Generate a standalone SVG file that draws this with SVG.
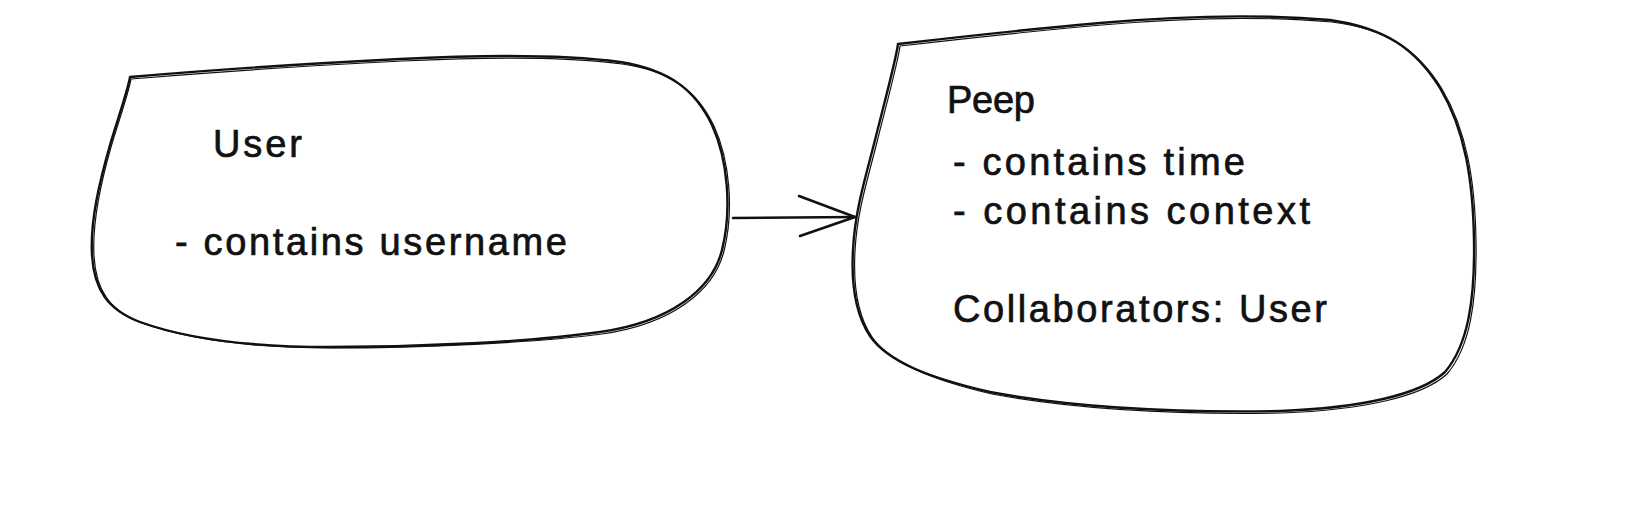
<svg xmlns="http://www.w3.org/2000/svg" width="1630" height="512" viewBox="0 0 1630 512">
<style>
.shape{fill:none;stroke:#111111;stroke-width:2.4;stroke-linecap:round;stroke-linejoin:round}
.shape2{fill:none;stroke:#111111;stroke-width:1.2;stroke-linecap:round;stroke-linejoin:round}
.conn{fill:none;stroke:#111111;stroke-width:2.6;stroke-linecap:round;stroke-linejoin:round}
.t{font-family:"Liberation Sans",Arial,sans-serif;font-size:38px;fill:#111111;stroke:#111111;stroke-width:0.7}
</style>
<rect width="1630" height="512" fill="#ffffff"/>
<g id="node-user">
<path class="shape" d="M130,77 C128,90 118,118 110,145 C100,180 90,220 92,255 C94,290 108,310 140,322 C190,340 260,347 330,347 C420,347 530,342 600,332 C670,322 712,290 722,250 C732,210 728,160 712,125 C695,90 670,70 620,62 C560,54 480,55 400,59 C300,64 200,71 130,77 Z"/>
<path class="shape2" d="M131,79 C129,92 119,120 111,147 C101,182 92,222 94,256 C96,291 110,311 142,323 C192,341 262,348 332,348 C422,348 532,343 602,334 C672,324 714,291 724,251 C734,211 730,161 714,126 C697,91 672,71 622,64 C562,56 482,57 402,61 C302,66 202,73 131,79"/>
<text class="t" x="213" y="157" textLength="89" lengthAdjust="spacing">User</text>
<text class="t" x="175" y="255" textLength="392" lengthAdjust="spacing">- contains username</text>
</g>
<g id="node-peep">
<path class="shape" d="M898,44 C896,60 885,100 875,140 C865,180 855,210 853,250 C851,285 856,315 870,336 C888,362 930,378 990,392 C1060,405 1160,413 1280,411 C1360,408 1420,395 1445,372 C1468,345 1475,300 1474,240 C1473,180 1465,130 1440,88 C1415,48 1385,28 1330,20 C1260,14 1180,16 1100,23 C1020,30 950,38 898,44 Z"/>
<path class="shape2" d="M900,46 C898,62 887,102 877,142 C867,182 857,212 855,251 C853,286 858,316 872,337 C890,363 932,380 992,394 C1062,407 1162,415 1282,413 C1362,410 1422,397 1447,374 C1470,347 1477,302 1476,241 C1475,181 1467,131 1442,89 C1417,49 1387,29 1332,22 C1262,16 1182,18 1102,25 C1022,32 952,40 900,46"/>
<text class="t" x="947" y="113" textLength="88" lengthAdjust="spacing">Peep</text>
<text class="t" x="953" y="175" textLength="292" lengthAdjust="spacing">- contains time</text>
<text class="t" x="953" y="224" textLength="357" lengthAdjust="spacing">- contains context</text>
<text class="t" x="953" y="322" textLength="374" lengthAdjust="spacing">Collaborators: User</text>
</g>
<g id="connectors">
<path class="conn" d="M733,218 L855,217"/>
<path class="conn" d="M799,196 L855,217 L800,236"/>
</g>
</svg>
